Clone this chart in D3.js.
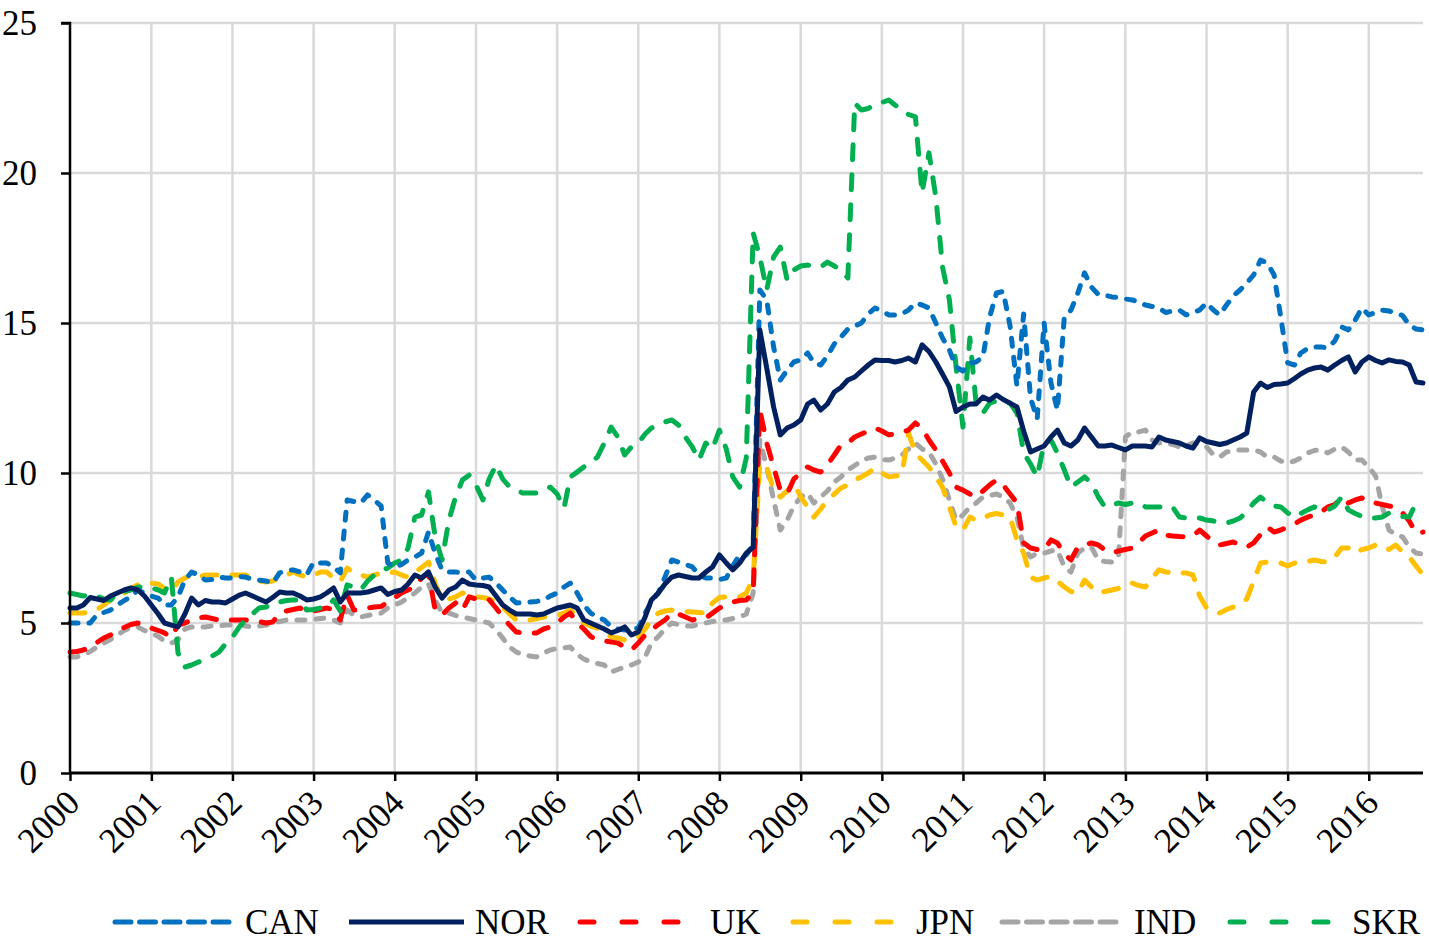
<!DOCTYPE html>
<html><head><meta charset="utf-8">
<script src="https://cdn.jsdelivr.net/npm/d3@7"></script>
<style>
html,body{margin:0;padding:0;background:#fff;}
svg{display:block;font-family:"Liberation Serif","Times New Roman",serif;}
</style></head><body>
<svg id="chart" width="1429" height="944"></svg>
<script>
// ---- DATA (monthly, Jan 2000 .. Sep 2016) ----
const startYear = 2000, nMonths = 201;
const yTicks = [0, 5, 10, 15, 20, 25];
const xTickYears = d3.range(2000, 2017);
const seriesNames = ["CAN", "NOR", "UK", "JPN", "IND", "SKR"];

const CAN = [
 5.0,5.0,5.0,5.0,5.27,5.35,5.43,5.6,5.75,5.87,6.1,6.0,
 5.9,5.83,5.6,5.6,5.87,6.43,6.7,6.6,6.43,6.45,6.53,6.5,
 6.5,6.55,6.53,6.45,6.43,6.4,6.33,6.67,6.75,6.77,6.7,6.6,
 7.03,7.0,7.0,6.87,6.67,9.1,9.05,9.0,9.27,9.1,8.9,7.0,
 6.87,6.95,7.1,7.2,7.33,8.03,7.33,6.77,6.7,6.7,6.68,6.7,
 6.43,6.5,6.53,6.33,6.1,5.87,5.67,5.68,5.7,5.72,5.77,5.9,
 6.0,6.2,6.33,6.0,5.6,5.33,5.2,5.1,4.87,4.8,4.77,4.8,
 4.83,5.33,5.7,6.0,6.53,7.1,7.03,6.95,6.87,6.6,6.5,6.5,
 6.45,6.5,6.9,7.27,7.27,7.6,16.1,15.77,14.2,13.1,13.43,13.7,
 13.77,14.0,13.67,13.6,13.9,14.3,14.53,14.8,14.9,15.0,15.3,15.5,
 15.4,15.27,15.27,15.3,15.43,15.67,15.6,15.5,15.0,14.5,14.1,13.53,
 13.4,13.67,13.7,13.87,15.2,16.0,16.05,14.9,12.9,15.3,12.5,11.8,
 15.0,13.0,12.1,15.2,15.43,16.0,16.67,16.2,15.95,15.93,15.87,15.85,
 15.8,15.77,15.7,15.6,15.55,15.5,15.35,15.4,15.43,15.27,15.35,15.43,
 15.67,15.43,15.27,15.6,15.9,16.1,16.33,16.6,17.1,17.0,16.6,15.2,
 13.67,13.6,14.0,14.15,14.2,14.2,14.17,14.4,14.87,14.77,15.1,15.5,
 15.27,15.35,15.43,15.4,15.33,15.25,14.93,14.8,14.77
];
const NOR = [
 5.5,5.5,5.6,5.85,5.8,5.75,5.9,6.0,6.1,6.17,6.1,5.9,
 5.6,5.3,5.0,4.93,4.87,5.3,5.83,5.6,5.75,5.7,5.7,5.67,
 5.8,5.93,6.0,5.9,5.8,5.7,5.85,6.03,6.0,6.0,5.9,5.77,
 5.8,5.87,6.0,6.17,5.7,6.0,6.0,6.0,6.03,6.1,6.17,5.95,
 6.05,6.1,6.3,6.6,6.5,6.7,6.2,5.83,6.1,6.2,6.43,6.3,
 6.27,6.25,6.2,5.9,5.6,5.43,5.3,5.3,5.3,5.27,5.3,5.4,
 5.5,5.55,5.6,5.5,5.1,5.0,4.9,4.8,4.67,4.75,4.87,4.6,
 4.7,5.2,5.77,6.0,6.3,6.53,6.6,6.55,6.5,6.5,6.7,6.87,
 7.27,7.0,6.77,7.0,7.33,7.53,14.77,13.5,12.2,11.27,11.5,11.6,
 11.77,12.3,12.43,12.1,12.3,12.7,12.85,13.1,13.2,13.4,13.6,13.77,
 13.75,13.75,13.7,13.75,13.83,13.7,14.27,14.05,13.7,13.3,12.87,12.05,
 12.2,12.3,12.3,12.53,12.43,12.6,12.45,12.33,12.2,11.4,10.7,10.8,
 10.9,11.2,11.43,11.0,10.9,11.1,11.5,11.2,10.9,10.9,10.93,10.85,
 10.77,10.9,10.9,10.9,10.87,11.2,11.1,11.05,11.0,10.9,10.83,11.17,
 11.05,11.0,10.95,11.0,11.1,11.2,11.33,12.7,13.0,12.85,12.95,12.97,
 13.0,13.15,13.3,13.43,13.5,13.53,13.43,13.6,13.75,13.87,13.37,13.7,
 13.87,13.75,13.67,13.77,13.72,13.7,13.6,13.03,13.0
];
const UK = [
 4.03,4.05,4.1,4.2,4.35,4.5,4.6,4.75,4.85,4.95,5.0,4.9,
 4.83,4.75,4.67,4.53,4.93,5.0,5.1,5.17,5.2,5.15,5.1,5.1,
 5.1,5.1,5.1,5.07,5.05,5.0,5.03,5.33,5.4,5.45,5.5,5.37,
 5.4,5.45,5.5,5.45,5.1,5.93,5.43,5.45,5.5,5.53,5.55,5.7,
 5.85,6.0,6.1,6.2,6.5,6.67,5.43,5.27,5.5,5.67,5.43,5.87,
 5.8,5.77,5.77,5.5,5.2,4.93,4.7,4.67,4.67,4.67,4.8,4.87,
 5.0,5.2,5.33,5.0,4.8,4.55,4.43,4.4,4.37,4.33,4.2,4.1,
 4.33,4.6,4.77,4.95,5.1,5.33,5.3,5.2,5.1,5.15,5.17,5.33,
 5.5,5.6,5.7,5.75,5.77,6.0,12.1,11.0,10.2,9.43,9.3,9.8,
 10.0,10.2,10.1,10.03,10.27,10.6,10.93,11.0,11.2,11.3,11.4,11.5,
 11.4,11.27,11.3,11.35,11.43,11.67,11.5,11.1,10.77,10.4,10.0,9.53,
 9.43,9.3,9.2,9.4,9.6,9.77,9.6,9.3,9.0,7.67,7.5,7.45,
 7.43,7.77,7.67,7.3,7.1,7.53,7.6,7.67,7.6,7.43,7.33,7.4,
 7.45,7.5,7.67,7.9,8.0,8.1,7.93,7.9,7.88,7.87,7.9,8.1,
 7.9,7.7,7.6,7.65,7.7,7.6,7.53,7.67,7.95,8.2,8.03,8.1,
 8.2,8.3,8.43,8.53,8.6,8.7,8.87,8.95,9.17,9.0,9.1,9.17,
 9.03,9.0,8.95,8.9,8.87,8.67,8.4,8.0,8.03
];
const JPN = [
 5.33,5.33,5.33,5.37,5.45,5.6,5.77,5.85,6.0,6.15,6.27,6.3,
 6.33,6.3,6.15,6.03,6.37,6.5,6.6,6.53,6.6,6.6,6.6,6.6,
 6.6,6.6,6.6,6.5,6.4,6.37,6.4,6.5,6.6,6.7,6.6,6.53,
 6.6,6.7,6.7,6.5,6.37,6.83,6.67,6.6,6.53,6.6,6.67,6.67,
 6.7,6.6,6.53,6.7,6.85,7.03,6.33,5.77,5.8,5.87,6.0,5.95,
 5.87,5.85,5.8,5.7,5.53,5.3,5.1,5.1,5.1,5.15,5.2,5.2,
 5.25,5.33,5.43,5.2,5.0,4.9,4.83,4.7,4.53,4.5,4.43,4.5,
 4.53,4.8,5.1,5.33,5.4,5.43,5.4,5.38,5.37,5.35,5.33,5.67,
 5.85,5.87,5.87,5.87,6.0,6.5,10.33,10.2,9.43,9.2,9.4,9.67,
 9.2,8.87,8.53,8.8,9.1,9.3,9.5,9.6,9.77,9.87,10.0,10.17,
 10.0,9.87,9.9,9.93,11.33,10.67,10.43,10.2,9.87,9.53,8.87,8.2,
 8.1,8.53,8.43,8.5,8.6,8.65,8.6,8.53,7.77,7.33,6.53,6.43,
 6.5,6.55,6.4,6.2,6.05,6.0,6.43,6.2,6.0,6.05,6.1,6.15,
 6.25,6.33,6.25,6.2,6.5,6.77,6.7,6.67,6.67,6.67,6.6,5.9,
 5.5,5.43,5.33,5.45,5.53,5.65,5.8,6.4,7.0,7.03,7.0,7.0,
 6.9,7.0,7.03,7.05,7.1,7.05,7.03,7.2,7.5,7.5,7.33,7.45,
 7.5,7.6,7.6,7.45,7.6,7.37,7.2,6.9,6.6
];
const IND = [
 3.87,3.87,3.93,4.05,4.2,4.33,4.45,4.6,4.75,4.85,4.87,4.75,
 4.67,4.55,4.4,4.33,4.43,4.8,4.87,4.87,4.87,4.9,4.9,4.93,
 4.93,4.95,4.9,4.87,4.9,4.93,5.0,5.05,5.1,5.1,5.1,5.1,
 5.12,5.15,5.17,5.1,5.0,5.43,5.27,5.2,5.25,5.3,5.33,5.5,
 5.6,5.7,5.85,6.0,6.2,6.3,5.77,5.33,5.33,5.25,5.2,5.15,
 5.1,5.05,5.0,4.77,4.5,4.2,4.03,3.95,3.9,3.87,4.0,4.1,
 4.15,4.17,4.2,3.95,3.8,3.7,3.65,3.6,3.37,3.45,3.53,3.6,
 3.7,3.87,4.33,4.55,4.8,5.0,4.95,4.9,4.9,4.95,5.0,5.05,
 5.1,5.1,5.15,5.2,5.3,6.0,11.1,10.2,9.1,8.1,8.43,8.9,
 9.2,9.33,9.0,9.2,9.4,9.7,9.87,10.1,10.25,10.4,10.5,10.53,
 10.45,10.43,10.5,10.6,10.8,11.0,10.8,10.7,10.3,9.8,9.1,8.43,
 8.6,8.87,9.0,9.2,9.25,9.3,9.2,9.0,8.53,7.5,7.2,7.33,
 7.33,7.4,7.43,6.87,6.7,7.33,7.5,7.53,7.1,7.05,7.03,7.2,
 11.2,11.37,11.37,11.43,11.1,11.0,11.0,10.95,10.87,10.9,11.0,10.95,
 10.87,10.6,10.53,10.7,10.75,10.77,10.77,10.77,10.7,10.53,10.53,10.4,
 10.33,10.4,10.5,10.67,10.75,10.77,10.67,10.8,10.87,10.7,10.43,10.43,
 10.2,9.9,8.9,8.1,7.95,7.87,7.53,7.33,7.3
];
const SKR = [
 6.0,5.95,5.9,5.93,5.9,5.8,5.77,6.0,6.05,6.1,6.2,6.2,
 6.17,6.1,6.0,6.53,4.0,3.53,3.6,3.7,3.77,3.9,4.03,4.3,
 4.53,4.87,5.1,5.3,5.5,5.53,5.67,5.7,5.75,5.77,5.77,5.43,
 5.45,5.5,5.53,5.77,5.4,6.27,6.2,6.1,6.4,6.6,6.75,6.83,
 7.0,7.1,7.5,8.53,8.6,9.37,7.87,7.1,8.43,9.2,9.77,9.93,
 9.6,9.1,9.8,10.27,9.8,9.53,9.43,9.33,9.33,9.33,9.4,9.53,
 9.3,8.83,9.87,10.03,10.2,10.35,10.53,11.0,11.53,11.2,10.6,10.87,
 11.0,11.3,11.5,11.6,11.7,11.77,11.6,11.2,10.87,10.43,11.0,10.8,
 11.43,10.8,9.87,9.53,10.5,18.0,17.2,16.1,17.2,17.53,16.43,16.77,
 16.9,16.93,16.9,16.87,17.03,16.9,16.77,16.5,22.33,22.1,22.15,22.3,
 22.35,22.43,22.27,22.1,21.95,21.87,19.33,20.67,19.2,16.87,15.77,13.53,
 11.53,14.5,12.33,12.0,12.33,12.4,12.35,12.33,12.0,10.67,10.3,9.87,
 11.0,11.1,10.67,10.1,9.53,9.7,9.87,9.67,9.2,8.87,8.93,9.0,
 8.95,9.0,9.0,8.87,8.87,8.87,8.87,8.87,8.53,8.5,8.53,8.5,
 8.43,8.4,8.35,8.33,8.4,8.5,8.7,9.0,9.2,9.0,8.9,8.87,
 8.67,8.53,8.65,8.77,8.87,8.8,8.77,8.9,9.2,8.77,8.65,8.55,
 8.5,8.5,8.53,8.67,8.6,8.55,8.53,9.0,9.0
];

// ---- STYLES ----
const styles = {
  CAN: {color: "#0070C0", dash: "8,11"},
  NOR: {color: "#002060", dash: null},
  UK:  {color: "#FF0000", dash: "15,15"},
  JPN: {color: "#FFC000", dash: "15,15"},
  IND: {color: "#A5A5A5", dash: "8,11"},
  SKR: {color: "#00B050", dash: "15,15"}
};
const seriesData = {CAN, NOR, UK, JPN, IND, SKR};

const dates = d3.range(nMonths).map(i => new Date(Date.UTC(startYear, i, 1)));

const svg = d3.select("#chart");
const L = 70, R = 1423, T = 23, B = 773;
const x = d3.scaleUtc().domain([dates[0], dates[dates.length - 1]]).range([L, R]);
const y = d3.scaleLinear().domain([0, 25]).range([B, T]);
const FONT = "Liberation Serif, Times New Roman, serif";

// gridlines
const grid = svg.append("g");
grid.selectAll("line.h").data(yTicks.filter(d => d > 0)).join("line")
  .attr("x1", L).attr("x2", R).attr("y1", d => y(d)).attr("y2", d => y(d))
  .attr("stroke", "#D9D9D9").attr("stroke-width", 2.5);
grid.selectAll("line.v").data(xTickYears.filter(d => d > 2000)).join("line")
  .attr("x1", d => x(new Date(Date.UTC(d, 0, 1)))).attr("x2", d => x(new Date(Date.UTC(d, 0, 1))))
  .attr("y1", T).attr("y2", B)
  .attr("stroke", "#D9D9D9").attr("stroke-width", 2.5);

// lines
const line = d3.line().x((d, i) => x(dates[i])).y(d => y(d)).curve(d3.curveLinear);
const order = ["IND", "JPN", "UK", "SKR", "CAN", "NOR"];
order.forEach(name => {
  const s = styles[name];
  svg.append("path")
    .datum(seriesData[name])
    .attr("d", line)
    .attr("fill", "none")
    .attr("stroke", s.color)
    .attr("stroke-width", 5)
    .attr("stroke-linejoin", "round")
    .attr("stroke-linecap", "round")
    .attr("stroke-dasharray", s.dash);
});

// y axis
const yAxis = d3.axisLeft(y).tickValues(yTicks).tickSize(9).tickPadding(24).tickFormat(d3.format("d"));
const gy = svg.append("g").attr("transform", `translate(${L},0)`).call(yAxis);
gy.attr("font-family", FONT);
gy.select(".domain").attr("stroke", "#000").attr("stroke-width", 2.5).attr("d", `M-9,${T}H0V${B}`);
gy.selectAll(".tick line").attr("stroke", "#000").attr("stroke-width", 2.5);
gy.selectAll(".tick text").attr("font-size", 35).attr("fill", "#000")
  .attr("font-family", FONT);

// x axis
const xAxis = d3.axisBottom(x).tickValues(xTickYears.map(yv => new Date(Date.UTC(yv, 0, 1))))
  .tickSize(8).tickFormat(d3.utcFormat("%Y"));
const gx = svg.append("g").attr("transform", `translate(0,${B})`).call(xAxis);
gx.attr("font-family", FONT);
gx.select(".domain").attr("stroke", "#000").attr("stroke-width", 3).attr("d", `M${L},0H${R}`);
gx.selectAll(".tick line").attr("stroke", "#000").attr("stroke-width", 2.5);
gx.selectAll(".tick text")
  .attr("font-size", 35).attr("fill", "#000").attr("font-family", FONT)
  .attr("text-anchor", "end").attr("dy", null).attr("y", 0)
  .attr("transform", "translate(11,32) rotate(-45)");

// legend
const legendItems = [
  {name: "CAN", x0: 115, x1: 236, tx: 245},
  {name: "NOR", x0: 349, x1: 464, tx: 475},
  {name: "UK",  x0: 580, x1: 681, tx: 710},
  {name: "JPN", x0: 793, x1: 891, tx: 916},
  {name: "IND", x0: 1002, x1: 1117, tx: 1134},
  {name: "SKR", x0: 1230, x1: 1335, tx: 1352}
];
const lg = svg.append("g").attr("font-family", FONT);
const ly = 922;
legendItems.forEach(it => {
  const s = styles[it.name];
  lg.append("line").attr("x1", it.x0).attr("x2", it.x1).attr("y1", ly).attr("y2", ly)
    .attr("stroke", s.color).attr("stroke-width", 5)
    .attr("stroke-linecap", s.dash ? "round" : "butt")
    .attr("stroke-dasharray", s.dash ? (it.name === "CAN" || it.name === "IND" ? "16,8.5" : "14,28") : null);
  lg.append("text").attr("x", it.tx).attr("y", ly).attr("dy", "0.35em")
    .attr("font-size", 35).attr("fill", "#000").text(it.name);
});
</script>
</body></html>
